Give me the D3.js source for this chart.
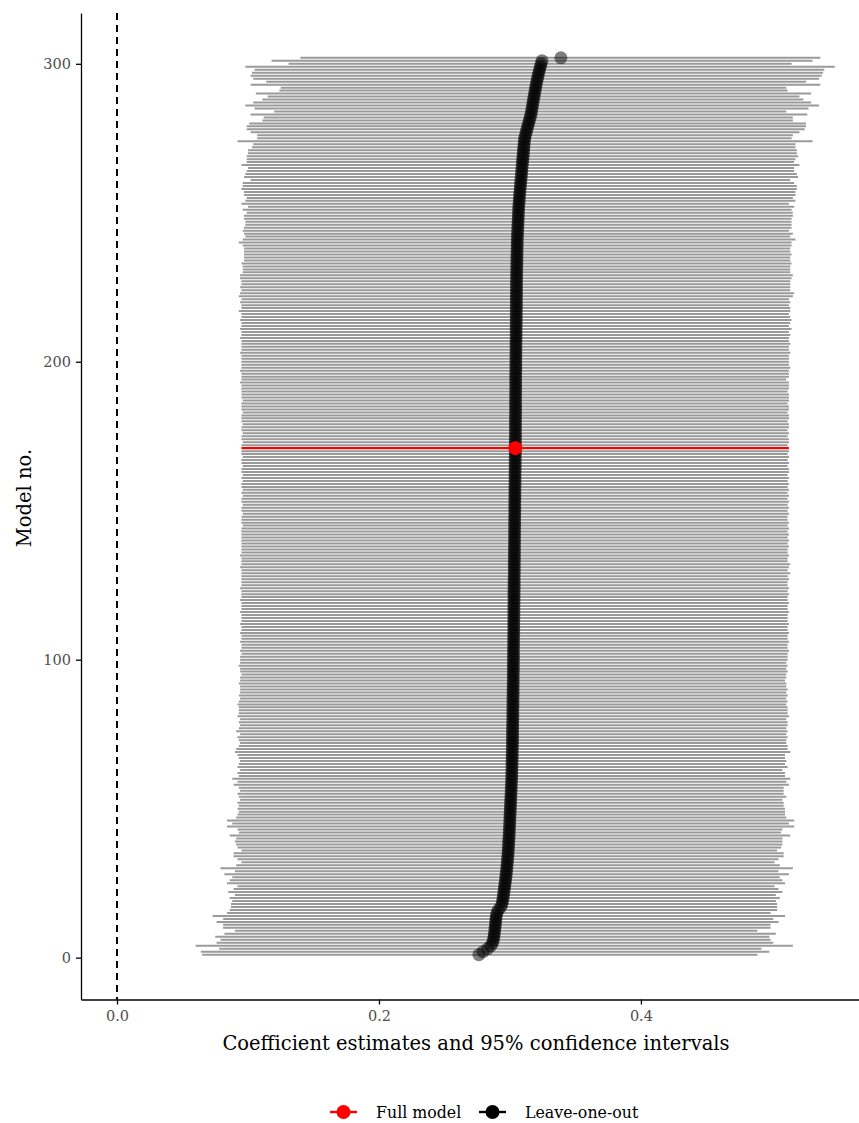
<!DOCTYPE html>
<html>
<head>
<meta charset="utf-8">
<script src="https://cdn.jsdelivr.net/npm/d3@7"></script>
<style>
  body { margin: 0; background: #fff; }
  text { font-family: "DejaVu Serif", "Liberation Serif", serif; }
</style>
</head>
<body>
<div id="chart"></div>
<script>
// model no. 1..302, sorted by estimate; model 171 is the full model
const estimates = [
  0.2763, 0.2795, 0.2830, 0.2855, 0.2868, 0.2874, 0.2878, 0.2881, 0.2884, 0.2886,
  0.2889, 0.2891, 0.2893, 0.2896, 0.2900, 0.2912, 0.2931, 0.2940, 0.2944, 0.2948,
  0.2951, 0.2954, 0.2957, 0.2960, 0.2963, 0.2966, 0.2969, 0.2971, 0.2974, 0.2976,
  0.2978, 0.2980, 0.2982, 0.2984, 0.2986, 0.2987, 0.2988, 0.2990, 0.2991, 0.2992,
  0.2994, 0.2995, 0.2996, 0.2997, 0.2998, 0.2999, 0.3000, 0.3001, 0.3002, 0.3003,
  0.3004, 0.3005, 0.3006, 0.3007, 0.3008, 0.3009, 0.3010, 0.3011, 0.3012, 0.3013,
  0.3014, 0.3014, 0.3015, 0.3015, 0.3016, 0.3016, 0.3017, 0.3017, 0.3018, 0.3018,
  0.3019, 0.3019, 0.3019, 0.3020, 0.3020, 0.3020, 0.3021, 0.3021, 0.3021, 0.3022,
  0.3022, 0.3022, 0.3022, 0.3023, 0.3023, 0.3023, 0.3023, 0.3024, 0.3024, 0.3024,
  0.3024, 0.3025, 0.3025, 0.3025, 0.3025, 0.3026, 0.3026, 0.3026, 0.3026, 0.3027,
  0.3027, 0.3027, 0.3027, 0.3027, 0.3028, 0.3028, 0.3028, 0.3028, 0.3029, 0.3029,
  0.3029, 0.3029, 0.3029, 0.3030, 0.3030, 0.3030, 0.3030, 0.3030, 0.3031, 0.3031,
  0.3031, 0.3031, 0.3031, 0.3032, 0.3032, 0.3032, 0.3032, 0.3032, 0.3033, 0.3033,
  0.3033, 0.3033, 0.3033, 0.3034, 0.3034, 0.3034, 0.3034, 0.3034, 0.3035, 0.3035,
  0.3035, 0.3035, 0.3035, 0.3036, 0.3036, 0.3036, 0.3036, 0.3036, 0.3037, 0.3037,
  0.3037, 0.3037, 0.3037, 0.3038, 0.3038, 0.3038, 0.3038, 0.3038, 0.3039, 0.3039,
  0.3039, 0.3039, 0.3039, 0.3040, 0.3040, 0.3040, 0.3040, 0.3040, 0.3041, 0.3041,
  0.3041, 0.3041, 0.3041, 0.3041, 0.3042, 0.3042, 0.3042, 0.3042, 0.3042, 0.3042,
  0.3042, 0.3043, 0.3043, 0.3043, 0.3043, 0.3043, 0.3043, 0.3043, 0.3043, 0.3044,
  0.3044, 0.3044, 0.3044, 0.3044, 0.3044, 0.3044, 0.3045, 0.3045, 0.3045, 0.3045,
  0.3045, 0.3045, 0.3046, 0.3046, 0.3046, 0.3046, 0.3046, 0.3047, 0.3047, 0.3047,
  0.3047, 0.3047, 0.3048, 0.3048, 0.3048, 0.3048, 0.3048, 0.3049, 0.3049, 0.3049,
  0.3049, 0.3049, 0.3050, 0.3050, 0.3050, 0.3050, 0.3050, 0.3051, 0.3051, 0.3051,
  0.3052, 0.3052, 0.3053, 0.3053, 0.3053, 0.3054, 0.3054, 0.3055, 0.3055, 0.3056,
  0.3056, 0.3057, 0.3058, 0.3059, 0.3060, 0.3061, 0.3062, 0.3063, 0.3064, 0.3065,
  0.3066, 0.3067, 0.3069, 0.3071, 0.3072, 0.3074, 0.3076, 0.3078, 0.3080, 0.3082,
  0.3084, 0.3086, 0.3088, 0.3090, 0.3092, 0.3094, 0.3096, 0.3098, 0.3100, 0.3102,
  0.3104, 0.3106, 0.3108, 0.3110, 0.3112, 0.3118, 0.3124, 0.3130, 0.3136, 0.3142,
  0.3148, 0.3155, 0.3160, 0.3165, 0.3168, 0.3172, 0.3176, 0.3180, 0.3184, 0.3188,
  0.3192, 0.3196, 0.3200, 0.3205, 0.3210, 0.3215, 0.3220, 0.3226, 0.3232, 0.3238,
  0.3245, 0.3389
];

const lowerCI = [
  0.065, 0.064, 0.078, 0.060, 0.076, 0.079, 0.075, 0.082, 0.090, 0.081,
  0.081, 0.076, 0.081, 0.073, 0.084, 0.086, 0.087, 0.087, 0.088, 0.086,
  0.090, 0.085, 0.089, 0.092, 0.084, 0.086, 0.088, 0.082, 0.090, 0.079,
  0.091, 0.095, 0.092, 0.089, 0.089, 0.095, 0.092, 0.091, 0.090, 0.091,
  0.086, 0.093, 0.092, 0.084, 0.088, 0.084, 0.091, 0.092, 0.093, 0.092,
  0.093, 0.092, 0.094, 0.093, 0.092, 0.094, 0.093, 0.089, 0.092, 0.088,
  0.093, 0.092, 0.094, 0.092, 0.093, 0.094, 0.093, 0.092, 0.090, 0.091,
  0.093, 0.094, 0.093, 0.092, 0.094, 0.091, 0.093, 0.094, 0.093, 0.094,
  0.092, 0.093, 0.093, 0.093, 0.092, 0.093, 0.094, 0.093, 0.094, 0.094,
  0.094, 0.093, 0.094, 0.094, 0.095, 0.094, 0.094, 0.093, 0.094, 0.094,
  0.094, 0.095, 0.094, 0.095, 0.095, 0.094, 0.095, 0.095, 0.094, 0.095,
  0.095, 0.094, 0.095, 0.095, 0.095, 0.094, 0.095, 0.095, 0.095, 0.094,
  0.095, 0.095, 0.095, 0.094, 0.095, 0.095, 0.095, 0.095, 0.095, 0.095,
  0.094, 0.095, 0.095, 0.095, 0.094, 0.095, 0.095, 0.095, 0.095, 0.095,
  0.095, 0.095, 0.095, 0.095, 0.096, 0.095, 0.095, 0.095, 0.096, 0.095,
  0.095, 0.096, 0.095, 0.095, 0.096, 0.095, 0.096, 0.095, 0.095, 0.096,
  0.095, 0.096, 0.095, 0.095, 0.096, 0.095, 0.095, 0.096, 0.095, 0.095,
  0.095, 0.095, 0.096, 0.095, 0.095, 0.096, 0.095, 0.095, 0.096, 0.095,
  0.095, 0.095, 0.096, 0.095, 0.095, 0.095, 0.096, 0.095, 0.095, 0.095,
  0.095, 0.095, 0.094, 0.095, 0.095, 0.095, 0.094, 0.095, 0.095, 0.095,
  0.095, 0.095, 0.094, 0.095, 0.095, 0.095, 0.095, 0.094, 0.095, 0.095,
  0.094, 0.095, 0.095, 0.094, 0.095, 0.095, 0.093, 0.095, 0.095, 0.094,
  0.095, 0.093, 0.094, 0.095, 0.094, 0.095, 0.095, 0.094, 0.094, 0.096,
  0.096, 0.096, 0.095, 0.097, 0.097, 0.097, 0.097, 0.097, 0.096, 0.093,
  0.096, 0.098, 0.097, 0.096, 0.097, 0.098, 0.098, 0.097, 0.097, 0.099,
  0.096, 0.100, 0.095, 0.098, 0.099, 0.097, 0.097, 0.095, 0.096, 0.096,
  0.102, 0.097, 0.098, 0.099, 0.100, 0.095, 0.099, 0.099, 0.099, 0.100,
  0.100, 0.103, 0.104, 0.092, 0.107, 0.107, 0.102, 0.099, 0.099, 0.101,
  0.111, 0.112, 0.102, 0.120, 0.105, 0.098, 0.104, 0.111, 0.115, 0.106,
  0.124, 0.125, 0.102, 0.114, 0.104, 0.102, 0.103, 0.105, 0.098, 0.131,
  0.118, 0.140
];

const upperCI = [
  0.489, 0.498, 0.492, 0.516, 0.501, 0.499, 0.498, 0.503, 0.489, 0.499,
  0.499, 0.505, 0.501, 0.510, 0.499, 0.504, 0.504, 0.504, 0.503, 0.506,
  0.503, 0.508, 0.505, 0.502, 0.510, 0.508, 0.506, 0.513, 0.505, 0.516,
  0.506, 0.502, 0.505, 0.509, 0.509, 0.504, 0.507, 0.508, 0.508, 0.508,
  0.514, 0.507, 0.508, 0.517, 0.513, 0.517, 0.511, 0.510, 0.510, 0.510,
  0.509, 0.509, 0.508, 0.511, 0.509, 0.509, 0.509, 0.513, 0.511, 0.514,
  0.510, 0.510, 0.508, 0.512, 0.510, 0.511, 0.510, 0.510, 0.514, 0.512,
  0.512, 0.511, 0.511, 0.512, 0.511, 0.512, 0.511, 0.512, 0.512, 0.511,
  0.513, 0.512, 0.512, 0.512, 0.511, 0.512, 0.511, 0.512, 0.511, 0.512,
  0.511, 0.511, 0.510, 0.511, 0.511, 0.512, 0.511, 0.512, 0.511, 0.512,
  0.512, 0.512, 0.513, 0.512, 0.512, 0.513, 0.512, 0.512, 0.513, 0.512,
  0.512, 0.513, 0.512, 0.512, 0.512, 0.513, 0.512, 0.512, 0.513, 0.512,
  0.512, 0.513, 0.512, 0.513, 0.512, 0.512, 0.513, 0.512, 0.514, 0.512,
  0.513, 0.514, 0.512, 0.512, 0.513, 0.512, 0.512, 0.513, 0.512, 0.513,
  0.512, 0.513, 0.512, 0.513, 0.512, 0.513, 0.512, 0.512, 0.513, 0.512,
  0.513, 0.512, 0.513, 0.512, 0.513, 0.512, 0.513, 0.512, 0.513, 0.512,
  0.513, 0.512, 0.513, 0.513, 0.512, 0.513, 0.512, 0.513, 0.512, 0.513,
  0.513, 0.512, 0.513, 0.513, 0.512, 0.513, 0.512, 0.513, 0.513, 0.512,
  0.513, 0.513, 0.512, 0.513, 0.513, 0.512, 0.513, 0.513, 0.513, 0.512,
  0.513, 0.513, 0.513, 0.511, 0.513, 0.513, 0.513, 0.514, 0.513, 0.513,
  0.513, 0.513, 0.514, 0.513, 0.513, 0.514, 0.513, 0.513, 0.514, 0.513,
  0.515, 0.513, 0.514, 0.515, 0.514, 0.513, 0.514, 0.514, 0.513, 0.514,
  0.513, 0.516, 0.517, 0.514, 0.514, 0.514, 0.514, 0.515, 0.516, 0.514,
  0.514, 0.514, 0.515, 0.514, 0.514, 0.515, 0.514, 0.514, 0.515, 0.515,
  0.518, 0.514, 0.516, 0.513, 0.515, 0.515, 0.515, 0.515, 0.516, 0.516,
  0.515, 0.517, 0.513, 0.518, 0.516, 0.518, 0.518, 0.519, 0.519, 0.517,
  0.514, 0.520, 0.519, 0.517, 0.517, 0.521, 0.517, 0.518, 0.520, 0.519,
  0.519, 0.518, 0.518, 0.531, 0.515, 0.516, 0.521, 0.525, 0.526, 0.526,
  0.516, 0.516, 0.527, 0.511, 0.528, 0.536, 0.530, 0.524, 0.521, 0.530,
  0.512, 0.511, 0.537, 0.526, 0.536, 0.538, 0.539, 0.540, 0.548, 0.515,
  0.531, 0.537
];

const fullModelNo = 171;
const xTicks = [0, 0.2, 0.4];
const yTicks = [0, 100, 200, 300];
const legendLabels = ["Full model", "Leave-one-out"];
const legendColors = ["#ff0000", "#000000"];

const width = 859, height = 1123;

const models = estimates.map((e, i) => ({
  no: i + 1,
  est: e,
  lo: lowerCI[i],
  hi: upperCI[i],
  full: i + 1 === fullModelNo
}));

const svg = d3.select("#chart")
  .append("svg")
  .attr("width", width)
  .attr("height", height);

const x = d3.scaleLinear().domain([-0.0275, 0.5665]).range([81, 859]);
const y = d3.scaleLinear().domain([-14.05, 317.05]).range([999.5, 13]);

// confidence interval lines
svg.append("g")
  .selectAll("line")
  .data(models.filter(d => !d.full))
  .join("line")
  .attr("x1", d => x(d.lo))
  .attr("x2", d => x(d.hi))
  .attr("y1", d => y(d.no))
  .attr("y2", d => y(d.no))
  .style("stroke", "#9a9a9a")
  .style("stroke-width", 2);

const full = models.filter(d => d.full);

svg.append("g")
  .selectAll("line")
  .data(full)
  .join("line")
  .attr("x1", d => x(d.lo))
  .attr("x2", d => x(d.hi))
  .attr("y1", d => y(d.no))
  .attr("y2", d => y(d.no))
  .style("stroke", "#ff0000")
  .style("stroke-width", 2.4);

// zero reference line
svg.append("line")
  .attr("x1", x(0)).attr("x2", x(0))
  .attr("y1", y.range()[1]).attr("y2", y.range()[0])
  .style("stroke", "#000")
  .style("stroke-width", 2)
  .style("stroke-dasharray", "7,5");

// estimates
svg.append("g")
  .selectAll("circle")
  .data(models.filter(d => !d.full))
  .join("circle")
  .attr("cx", d => x(d.est))
  .attr("cy", d => y(d.no))
  .attr("r", 6.5)
  .style("fill", "#000")
  .style("fill-opacity", 0.5);

svg.append("g")
  .selectAll("circle")
  .data(full)
  .join("circle")
  .attr("cx", d => x(d.est))
  .attr("cy", d => y(d.no))
  .attr("r", 7)
  .style("fill", "#ff0000");

// axes
const yAxis = svg.append("g")
  .attr("transform", "translate(81,0)")
  .call(d3.axisLeft(y).tickValues(yTicks).tickFormat(d3.format("d")).tickSize(5).tickSizeOuter(0).tickPadding(5));

const xAxis = svg.append("g")
  .attr("transform", "translate(0,999.5)")
  .call(d3.axisBottom(x).tickValues(xTicks).tickFormat(d3.format(".1f")).tickSize(5).tickSizeOuter(0).tickPadding(6));

[xAxis, yAxis].forEach(a => {
  a.select(".domain").style("stroke", "#000").style("stroke-width", 1.3);
  a.selectAll(".tick line").style("stroke", "#000").style("stroke-width", 1.3);
  a.selectAll(".tick text")
    .style("fill", "#4d4d4d")
    .style("font-size", "14.5px")
    .style("font-family", "'DejaVu Serif', serif");
});

// axis titles
svg.append("text")
  .attr("x", 476)
  .attr("y", 1050)
  .attr("text-anchor", "middle")
  .style("font-size", "19.5px")
  .text("Coefficient estimates and 95% confidence intervals");

svg.append("text")
  .attr("transform", "translate(31,498) rotate(-90)")
  .attr("text-anchor", "middle")
  .style("font-size", "19.5px")
  .text("Model no.");

// legend
const legendX = [330, 479];
const legend = svg.append("g")
  .selectAll("g")
  .data(legendLabels)
  .join("g")
  .attr("transform", (d, i) => `translate(${legendX[i]},1112)`);

legend.append("line")
  .attr("x1", 0).attr("x2", 27)
  .style("stroke", (d, i) => legendColors[i])
  .style("stroke-width", 2.4);

legend.append("circle")
  .attr("cx", 13.5)
  .attr("r", 7)
  .style("fill", (d, i) => legendColors[i]);

legend.append("text")
  .attr("x", 46)
  .attr("dy", "0.35em")
  .style("font-size", "15.8px")
  .text(d => d);
</script>
</body>
</html>
